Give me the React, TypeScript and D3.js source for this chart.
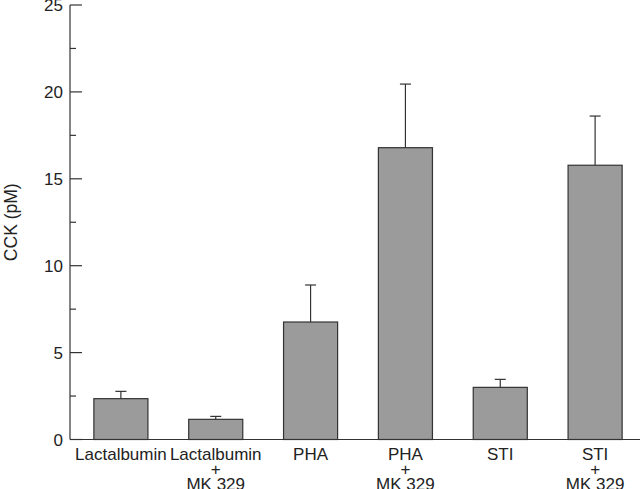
import React, { useEffect, useRef } from "react";
import * as d3 from "d3";

const categories = ["Lactalbumin", "Lactalbumin\n+\nMK 329", "PHA", "PHA\n+\nMK 329", "STI", "STI\n+\nMK 329"];
const means = [2.35, 1.16, 6.76, 16.79, 3.0, 15.78];
const upperErrors = [2.77, 1.33, 8.89, 20.45, 3.46, 18.61];
const majorTicks = [0, 5, 10, 15, 20, 25];
const minorTicks = [2.5, 7.5, 12.5, 17.5, 22.5];

export default function App() {
  const svgRef = useRef<SVGSVGElement>(null);

  useEffect(() => {
    const width = 640;
    const height = 489;
    const svg = d3.select(svgRef.current).attr("width", width).attr("height", height);
    svg.selectAll("*").remove();

    const axisX = 70;
    const y = d3.scaleLinear().domain([0, 25]).range([439.5, 5]);
    const x = d3.scaleBand<number>()
      .domain(d3.range(categories.length))
      .range([73, 643])
      .paddingInner(0.43)
      .paddingOuter(0.22);

    const font = "'Liberation Sans', Arial, sans-serif";

    // bars
    svg.append("g")
      .selectAll("rect")
      .data(means)
      .join("rect")
      .attr("x", (d, i) => x(i)!)
      .attr("y", d => y(d))
      .attr("width", x.bandwidth())
      .attr("height", d => y(0) - y(d))
      .attr("fill", "#9b9b9b")
      .attr("stroke", "#333")
      .attr("stroke-width", 1.2);

    // error bars
    const err = svg.append("g").attr("stroke", "#333").attr("stroke-width", 1.2);
    upperErrors.forEach((e, i) => {
      const cx = x(i)! + x.bandwidth() / 2;
      err.append("line").attr("x1", cx).attr("x2", cx).attr("y1", y(means[i])).attr("y2", y(e));
      err.append("line").attr("x1", cx - 5.5).attr("x2", cx + 5.5).attr("y1", y(e)).attr("y2", y(e));
    });

    // axes
    const ax = svg.append("g").attr("stroke", "#333").attr("stroke-width", 1.2);
    ax.append("line").attr("x1", axisX).attr("x2", axisX).attr("y1", y(25)).attr("y2", y(0));
    ax.append("line").attr("x1", axisX).attr("x2", width).attr("y1", y(0)).attr("y2", y(0));
    majorTicks.forEach(t => {
      ax.append("line").attr("x1", axisX).attr("x2", axisX + 12).attr("y1", y(t)).attr("y2", y(t));
    });
    minorTicks.forEach(t => {
      ax.append("line").attr("x1", axisX).attr("x2", axisX + 6).attr("y1", y(t)).attr("y2", y(t));
    });

    svg.append("g")
      .selectAll("text")
      .data(majorTicks)
      .join("text")
      .attr("x", axisX - 7)
      .attr("y", d => y(d))
      .attr("dy", "0.36em")
      .attr("text-anchor", "end")
      .attr("font-family", font)
      .attr("font-size", 17)
      .attr("fill", "#222")
      .text(d => d);

    // category labels
    categories.forEach((c, i) => {
      const cx = x(i)! + x.bandwidth() / 2;
      const t = svg.append("text")
        .attr("text-anchor", "middle")
        .attr("font-family", font)
        .attr("font-size", 17)
        .attr("fill", "#222");
      c.split("\n").forEach((line, j) => {
        t.append("tspan").attr("x", cx).attr("y", 460 + j * 15).text(line);
      });
    });

    svg.append("text")
      .attr("transform", `translate(11,${y(12.5)}) rotate(-90)`)
      .attr("text-anchor", "middle")
      .attr("dy", "0.36em")
      .attr("font-family", font)
      .attr("font-size", 17.5)
      .attr("fill", "#222")
      .text("CCK (pM)");
  }, []);

  return <svg ref={svgRef} style={{ position: "fixed", left: 0, top: 0, background: "#fff" }} />;
}
